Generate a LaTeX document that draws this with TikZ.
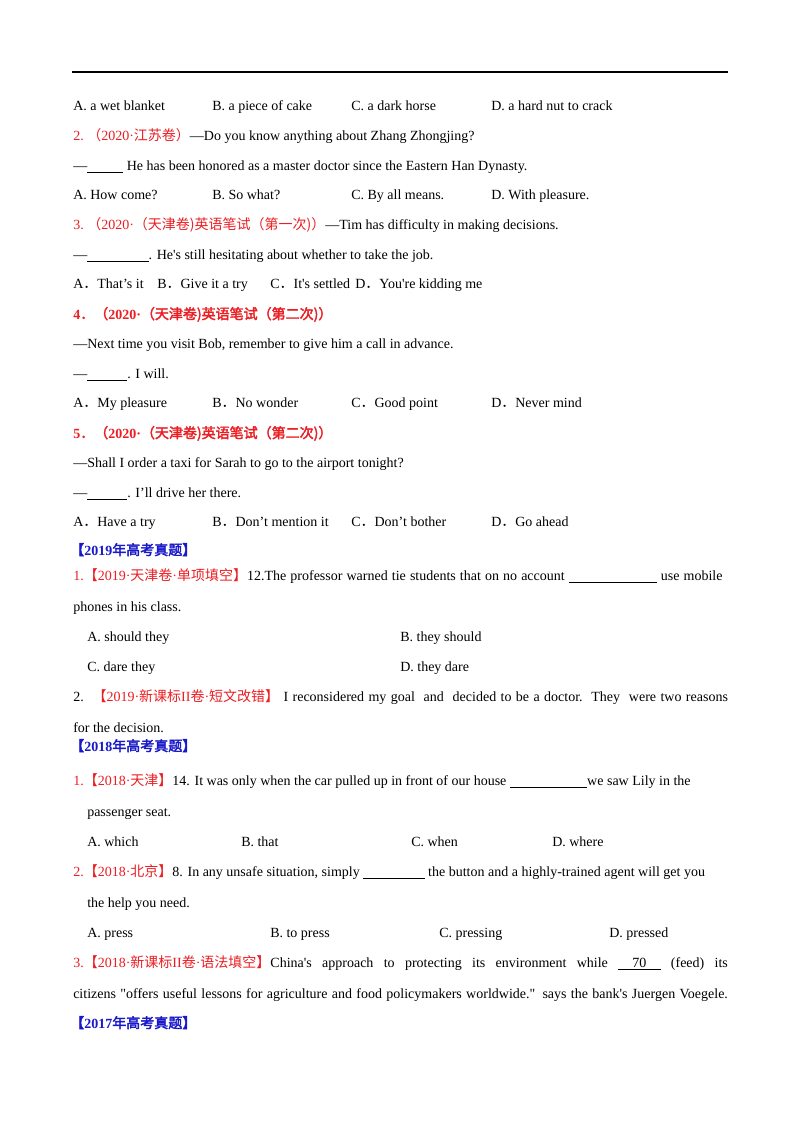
\documentclass[tikz,border=0pt]{standalone}
\usepackage{fontspec}
\setmainfont{Liberation Serif}
\newfontfamily\cjk{Noto Sans CJK SC}
\newfontfamily\cjkb{Noto Sans CJK SC}[FakeBold=2.5]
\definecolor{qred}{RGB}{235,30,35}
\definecolor{qblue}{RGB}{25,25,200}
\newcommand\rd[1]{\textcolor{qred}{#1}}
\newcommand\jw{\makebox[491pt][s]}
\newcommand\ap{\textquotesingle}
\newcommand\dq{\textquotedbl}
\begin{document}
\begin{tikzpicture}[x=0.75pt,y=-0.75pt,
  txt/.style={anchor=base west,inner sep=0pt,font=\fontsize{10.5}{12}\selectfont}]
\useasboundingbox[fill=white] (0,0) rectangle (800,1132);
\draw[line width=1.3pt] (72,72) -- (728,72);
\node[txt] (a1) at (73,110) {A. a wet blanket};
\node[txt] (b1) at (212,110) {B. a piece of cake};
\node[txt] (c1) at (351,110) {C. a dark horse};
\node[txt] (d1) at (491,110) {D. a hard nut to crack};
\node[txt] (q2) at (73,140) {\rd{2.\ {\cjk （}2020·{\cjk 江苏卷）}}—Do you know anything about Zhang Zhongjing?};
\node[txt] (q2b) at (73,170) {—\underline{\hspace{27pt}} He has been honored as a master doctor since the Eastern Han Dynasty.};
\node[txt] (a2) at (73,199) {A. How come?};
\node[txt] (b2) at (212,199) {B. So what?};
\node[txt] (c2) at (351,199) {C. By all means.};
\node[txt] (d2) at (491,199) {D. With pleasure.};
\node[txt] (q3) at (73,229) {\rd{3.\ {\cjk （}2020·{\cjk （天津卷)英语笔试（第一次)）}}—Tim has difficulty in making decisions.};
\node[txt] (q3b) at (73,259) {—\underline{\hspace{46pt}}. He\ap s still hesitating about whether to take the job.};
\node[txt] (a3) at (73,288) {A{\cjk ．}That’s it};
\node[txt] (b3) at (157,288) {B{\cjk ．}Give it a try};
\node[txt] (c3) at (270,288) {C{\cjk ．}It\ap s settled};
\node[txt] (d3) at (355,288) {D{\cjk ．}You\ap re kidding me};
\node[txt] (q4) at (73,319) {\rd{\textbf{4}{\cjkb ．（}\textbf{2020·}{\cjkb （天津卷)英语笔试（第二次)）}}};
\node[txt] (q4a) at (73,348) {—Next time you visit Bob, remember to give him a call in advance.};
\node[txt] (q4b) at (73,378) {—\underline{\hspace{30pt}}. I will.};
\node[txt] (a4) at (73,407) {A{\cjk ．}My pleasure};
\node[txt] (b4) at (212,407) {B{\cjk ．}No wonder};
\node[txt] (c4) at (351,407) {C{\cjk ．}Good point};
\node[txt] (d4) at (491,407) {D{\cjk ．}Never mind};
\node[txt] (q5) at (73,438) {\rd{\textbf{5}{\cjkb ．（}\textbf{2020·}{\cjkb （天津卷)英语笔试（第二次)）}}};
\node[txt] (q5a) at (73,467) {—Shall I order a taxi for Sarah to go to the airport tonight?};
\node[txt] (q5b) at (73,497) {—\underline{\hspace{30pt}}. I’ll drive her there.};
\node[txt] (a5) at (73,526) {A{\cjk ．}Have a try};
\node[txt] (b5) at (212,526) {B{\cjk ．}Don’t mention it};
\node[txt] (c5) at (351,526) {C{\cjk ．}Don’t bother};
\node[txt] (d5) at (491,526) {D{\cjk ．}Go ahead};
\node[txt] (h19) at (70,555) {\textcolor{qblue}{{\cjkb 【}\textbf{2019}{\cjkb 年高考真题】}}};
\node[txt] (p1) at (73,580) {\makebox[487pt][s]{\rd{1.{\cjk 【}2019·{\cjk 天津卷}·{\cjk 单项填空】}}12.The professor warned tie students that on no account \underline{\hspace{66pt}} use mobile}};
\node[txt] (p1b) at (73,611) {phones in his class.};
\node[txt] (pa) at (87,641) {A. should they};
\node[txt] (pb) at (400,641) {B. they should};
\node[txt] (pc) at (87,671) {C. dare they};
\node[txt] (pd) at (400,671) {D. they dare};
\node[txt] (p2) at (73,701) {\jw{2.\ \ \rd{{\cjk 【}2019·{\cjk 新课标}II{\cjk 卷}·{\cjk 短文改错】}}\ I reconsidered my goal\ \ and\ \ decided to be a doctor.\ \ They\ \ were two reasons}};
\node[txt] (p2b) at (73,732) {for the decision.};
\node[txt] (h18) at (70,751) {\textcolor{qblue}{{\cjkb 【}\textbf{2018}{\cjkb 年高考真题】}}};
\node[txt] (r1) at (73,785) {\rd{1.{\cjk 【}2018·{\cjk 天津】}}14. It was only when the car pulled up in front of our house \underline{\hspace{58pt}}we saw Lily in the};
\node[txt] (r1b) at (87,816) {passenger seat.};
\node[txt] (ra) at (87,846) {A. which};
\node[txt] (rb) at (241,846) {B. that};
\node[txt] (rc) at (411,846) {C. when};
\node[txt] (rd) at (552,846) {D. where};
\node[txt] (r2) at (73,876) {\rd{2.{\cjk 【}2018·{\cjk 北京】}}8. In any unsafe situation, simply \underline{\hspace{46pt}} the button and a highly-trained agent will get you};
\node[txt] (r2b) at (87,907) {the help you need.};
\node[txt] (sa) at (87,937) {A. press};
\node[txt] (sb) at (270,937) {B. to press};
\node[txt] (sc) at (439,937) {C. pressing};
\node[txt] (sd) at (609,937) {D. pressed};
\node[txt] (r3) at (73,967) {\jw{\rd{3.{\cjk 【}2018·{\cjk 新课标}II{\cjk 卷}·{\cjk 语法填空】}}China\ap s approach to protecting its environment while \underline{\hspace{8pt}\ 70\ \hspace{8pt}} (feed) its}};
\node[txt] (r3b) at (73,998) {\jw{citizens \dq offers useful lessons for agriculture and food policymakers worldwide.\dq{} says the bank\ap s Juergen Voegele.}};
\node[txt] (h17) at (70,1028) {\textcolor{qblue}{{\cjkb 【}\textbf{2017}{\cjkb 年高考真题】}}};
\end{tikzpicture}
\end{document}
